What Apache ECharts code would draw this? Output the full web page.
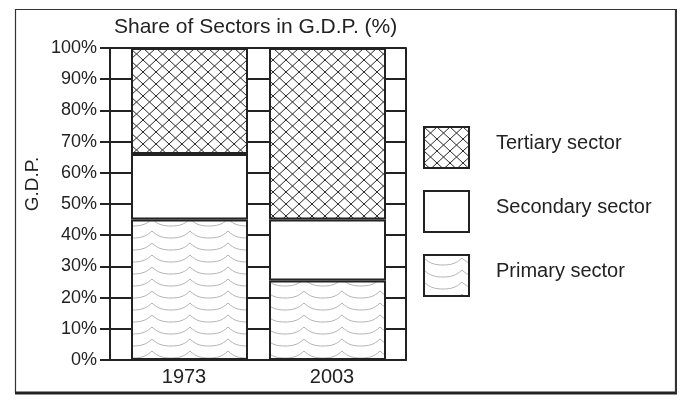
<!DOCTYPE html>
<html>
<head>
<meta charset="utf-8">
<script src="https://cdn.jsdelivr.net/npm/echarts@6/dist/echarts.min.js"></script>
<style>
html,body{margin:0;padding:0;background:#fff;}
#c{width:697px;height:406px;}
</style>
</head>
<body>
<div id="c"></div>
<script>
var categories = ['1973', '2003'];
var primary = [45, 25.5];
var secondary = [21, 19.5];
var tertiary = [34, 55];
var yTicks = [0, 10, 20, 30, 40, 50, 60, 70, 80, 90, 100];
var legendNames = ['Tertiary sector', 'Secondary sector', 'Primary sector'];
var titleText = 'Share of Sectors in G.D.P. (%)';
var yName = 'G.D.P.';

(function () {
var FONT = 'Liberation Sans, Arial, sans-serif';
var INK = '#222';

function crossPattern() {
  var w = 13, h = 12;
  var c = document.createElement('canvas');
  c.width = w; c.height = h;
  var g = c.getContext('2d');
  g.fillStyle = '#fff'; g.fillRect(0, 0, w, h);
  g.strokeStyle = '#2a2a2a'; g.lineWidth = 1;
  g.beginPath();
  g.moveTo(0, 0); g.lineTo(w, h);
  g.moveTo(w, 0); g.lineTo(0, h);
  g.stroke();
  return c;
}
function wavePattern() {
  var w = 38, h = 12;
  var c = document.createElement('canvas');
  c.width = w; c.height = h;
  var g = c.getContext('2d');
  g.fillStyle = '#fff'; g.fillRect(0, 0, w, h);
  g.strokeStyle = '#b4b4b4'; g.lineWidth = 1;
  for (var k = -1; k <= 1; k++) {
    var y0 = 3 + k * h;
    g.beginPath();
    g.moveTo(0, y0);
    g.bezierCurveTo(6, y0 + 6, 12, y0 + 7, w / 2, y0 + 7);
    g.bezierCurveTo(w - 12, y0 + 7, w - 6, y0 + 6, w, y0);
    g.stroke();
  }
  return c;
}

var chart = echarts.init(document.getElementById('c'), null, {renderer: 'canvas'});

var gTop = 48, gBottom = 406 - 360;
var option = {
  animation: false,
  backgroundColor: '#fff',
  title: {
    text: titleText, left: 109, top: 12,
    textStyle: {fontFamily: FONT, fontSize: 21, fontWeight: 'normal', color: INK}
  },
  legend: {
    orient: 'vertical', left: 423, top: 126,
    itemWidth: 45, itemHeight: 41, itemGap: 21, padding: 0,
    icon: 'rect',
    data: legendNames,
    formatter: function (n) { return '{a|' + n + '}'; },
    textStyle: {
      fontFamily: FONT, fontSize: 20, color: INK,
      rich: {a: {fontFamily: FONT, fontSize: 20, color: INK, padding: [0, 0, 8, 22]}}
    }
  },
  grid: [
    {left: 110, right: 697 - 406, top: gTop, bottom: gBottom},
    {left: 120.5, right: 697 - 396.5, top: gTop, bottom: gBottom}
  ],
  xAxis: [
    {
      type: 'category', gridIndex: 0, data: categories,
      axisLine: {show: true, lineStyle: {color: INK, width: 2}},
      axisTick: {show: false},
      axisLabel: {fontFamily: FONT, fontSize: 20, color: INK, margin: 7},
      splitLine: {show: false}
    },
    {
      type: 'category', gridIndex: 1, data: categories, show: false
    }
  ],
  yAxis: [
    {
      type: 'value', gridIndex: 0, min: 0, max: 100, interval: 10,
      axisLine: {show: true, lineStyle: {color: INK, width: 2}},
      axisTick: {show: true, length: 10, lineStyle: {color: INK, width: 2}},
      axisLabel: {fontFamily: FONT, fontSize: 18, color: INK, margin: 13,
        formatter: function (v) { return yTicks.indexOf(v) >= 0 ? v + '%' : ''; }},
      splitLine: {show: true, lineStyle: {color: INK, width: 2}}
    },
    {
      type: 'value', gridIndex: 0, min: 0, max: 100, interval: 10, position: 'right',
      axisLine: {show: true, lineStyle: {color: INK, width: 2}},
      axisTick: {show: false}, axisLabel: {show: false}, splitLine: {show: false}
    },
    {
      type: 'value', gridIndex: 1, min: 0, max: 100, show: false
    }
  ],
  series: [
    {
      name: 'Primary sector', type: 'bar', stack: 's', xAxisIndex: 1, yAxisIndex: 2,
      barWidth: 117, data: primary,
      itemStyle: {color: {image: wavePattern(), repeat: 'repeat'}, borderColor: INK, borderWidth: 2}
    },
    {
      name: 'Secondary sector', type: 'bar', stack: 's', xAxisIndex: 1, yAxisIndex: 2,
      barWidth: 117, data: secondary,
      itemStyle: {color: '#ffffff', borderColor: INK, borderWidth: 2}
    },
    {
      name: 'Tertiary sector', type: 'bar', stack: 's', xAxisIndex: 1, yAxisIndex: 2,
      barWidth: 117, data: tertiary,
      itemStyle: {color: {image: crossPattern(), repeat: 'repeat'}, borderColor: INK, borderWidth: 2}
    }
  ],
  graphic: [
    {
      type: 'rect', silent: true, z: -1,
      shape: {x: 15.5, y: 9.5, width: 660, height: 383},
      style: {fill: 'none', stroke: '#333', lineWidth: 1.2}
    },
    {
      type: 'line', silent: true,
      shape: {x1: 15, y1: 393, x2: 677, y2: 393},
      style: {stroke: '#222', lineWidth: 3}
    },
    {
      type: 'line', silent: true,
      shape: {x1: 676, y1: 9, x2: 676, y2: 393},
      style: {stroke: '#333', lineWidth: 2}
    },
    {
      type: 'text', silent: true,
      x: 33, y: 184, rotation: Math.PI / 2,
      style: {text: yName, fontFamily: FONT, fontSize: 19, fill: INK, align: 'center', verticalAlign: 'middle'}
    }
  ]
};
chart.setOption(option);
})();
</script>
</body>
</html>
